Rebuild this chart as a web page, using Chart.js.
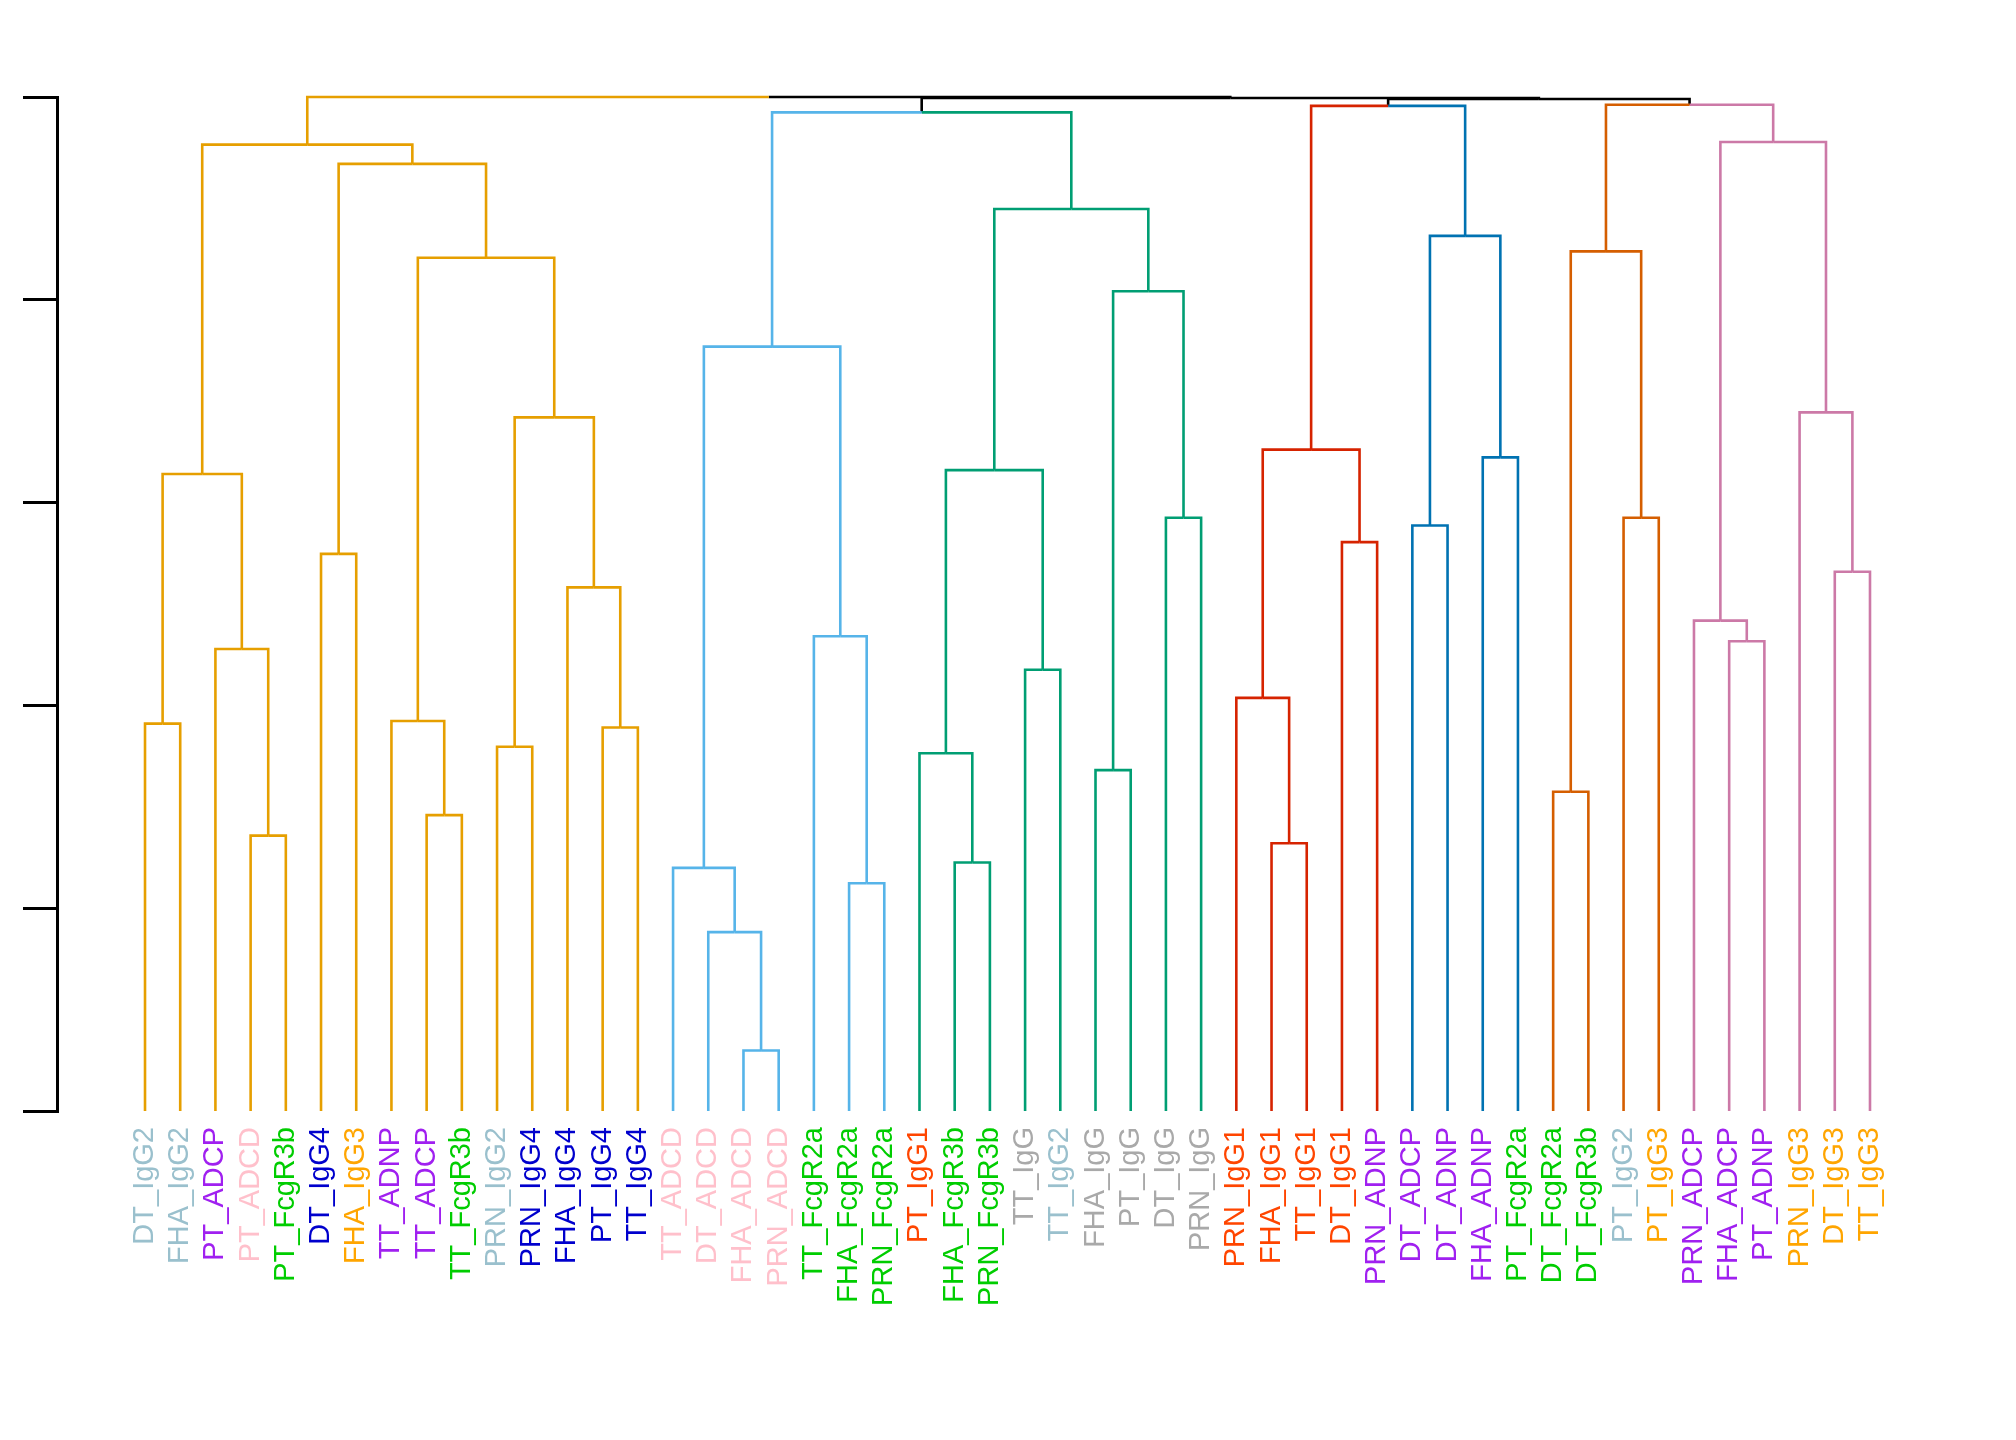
<!DOCTYPE html>
<html>
<head>
<meta charset="utf-8">
<script src="https://cdn.jsdelivr.net/npm/chart.js@4.4.0/dist/chart.umd.min.js"></script>
<style>
  html, body { margin: 0; padding: 0; background: #fff; }
  canvas { display: block; }
</style>
</head>
<body>
<canvas id="dendro" width="2016" height="1440"></canvas>
<script>
// leaf labels in plotting order (left to right)
const leafLabels = [
    'DT_IgG2', 'FHA_IgG2', 'PT_ADCP', 'PT_ADCD', 'PT_FcgR3b', 'DT_IgG4', 'FHA_IgG3', 'TT_ADNP',
    'TT_ADCP', 'TT_FcgR3b', 'PRN_IgG2', 'PRN_IgG4', 'FHA_IgG4', 'PT_IgG4', 'TT_IgG4',
    'TT_ADCD', 'DT_ADCD', 'FHA_ADCD', 'PRN_ADCD', 'TT_FcgR2a', 'FHA_FcgR2a', 'PRN_FcgR2a',
    'PT_IgG1', 'FHA_FcgR3b', 'PRN_FcgR3b', 'TT_IgG', 'TT_IgG2', 'FHA_IgG', 'PT_IgG', 'DT_IgG', 'PRN_IgG',
    'PRN_IgG1', 'FHA_IgG1', 'TT_IgG1', 'DT_IgG1', 'PRN_ADNP',
    'DT_ADCP', 'DT_ADNP', 'FHA_ADNP', 'PT_FcgR2a',
    'DT_FcgR2a', 'DT_FcgR3b', 'PT_IgG2', 'PT_IgG3',
    'PRN_ADCP', 'FHA_ADCP', 'PT_ADNP', 'PRN_IgG3', 'DT_IgG3', 'TT_IgG3'
];

// label colour per leaf (by feature type)
const leafColors = [
    '#9AC0CD', '#9AC0CD', '#A020F0', '#FFC0CB', '#00CD00', '#0000CD', '#FFA500', '#A020F0',
    '#A020F0', '#00CD00', '#9AC0CD', '#0000CD', '#0000CD', '#0000CD', '#0000CD',
    '#FFC0CB', '#FFC0CB', '#FFC0CB', '#FFC0CB', '#00CD00', '#00CD00', '#00CD00',
    '#FF4500', '#00CD00', '#00CD00', '#A9A9A9', '#9AC0CD', '#A9A9A9', '#A9A9A9', '#A9A9A9', '#A9A9A9',
    '#FF4500', '#FF4500', '#FF4500', '#FF4500', '#A020F0',
    '#A020F0', '#A020F0', '#A020F0', '#00CD00',
    '#00CD00', '#00CD00', '#9AC0CD', '#FFA500',
    '#A020F0', '#A020F0', '#A020F0', '#FFA500', '#FFA500', '#FFA500'
];

// clusters (consecutive leaves) and their branch colours
const clusterSizes = [15, 7, 9, 5, 4, 4, 6];
const clusterColors = ['#E69F00', '#56B4E9', '#009E73', '#D62300', '#0072B2', '#D55E00', '#CC79A7'];

// merge table, hclust style: negative = leaf position, positive = earlier merge row
const mergeLeft = [
    -1, -4, -3, 1, -6, -9, -8, -11, -14, -13, 8, 7, 5, 4,
    -18, -17, -16, -21, -20, 17,
    -24, -23, -26, 22, -28, -30, 25, 24, 20,
    -33, -32, -35, 31,
    -37, -39, 34, 33,
    -41, -43, 38,
    -46, -45, -49, -48, 42, 40,
    37, 29, 14
];
const mergeRight = [
    -2, -5, 2, 3, -7, -10, 6, -12, -15, 9, 10, 11, 12, 13,
    -19, 15, 16, -22, 18, 19,
    -25, 21, -27, 23, -29, -31, 26, 27, 28,
    -34, 30, -36, 32,
    -38, -40, 35, 36,
    -42, -44, 39,
    -47, 41, -50, 43, 44, 45,
    46, 47, 48
];
const mergeHeight = [
    1.910, 1.358, 2.278, 3.141, 2.747, 1.459, 1.923, 1.796, 1.891, 2.582, 3.420, 4.207, 4.670, 4.765,
    0.298, 0.882, 1.199, 1.123, 2.341, 3.769,
    1.225, 1.764, 2.176, 3.160, 1.681, 2.925, 4.042, 4.448, 4.924,
    1.320, 2.037, 2.805, 3.261,
    2.887, 3.223, 4.315, 4.956,
    1.574, 2.925, 4.239,
    2.316, 2.418, 2.659, 3.445, 4.778, 4.962,
    4.990, 4.995, 5.000
];

const yTicks = [0, 1, 2, 3, 4, 5];

function leafClusterColor(pos) {
    let end = 0;
    for (let k = 0; k < clusterSizes.length; k++) {
        end += clusterSizes[k];
        if (pos <= end) return clusterColors[k];
    }
    return '#000000';
}

// walk the merge table, placing each node midway between its children
function buildSegments() {
    const nodes = [];
    const child = (id) => id < 0
        ? { x: -id, h: 0, color: leafClusterColor(-id) }
        : nodes[id - 1];
    const segments = [];
    for (let i = 0; i < mergeHeight.length; i++) {
        const a = child(mergeLeft[i]);
        const b = child(mergeRight[i]);
        const h = mergeHeight[i];
        const node = {
            x: (a.x + b.x) / 2,
            h: h,
            color: a.color === b.color ? a.color : '#000000'
        };
        nodes.push(node);
        [a, b].forEach(c => {
            segments.push({
                data: [{ x: c.x, y: c.h }, { x: c.x, y: h }, { x: node.x, y: h }],
                borderColor: c.color
            });
        });
    }
    return segments;
}

const datasets = buildSegments().map(s => ({
    data: s.data,
    borderColor: s.borderColor,
    borderWidth: 2.6,
    showLine: true,
    pointRadius: 0,
    pointHoverRadius: 0,
    fill: false,
    tension: 0,
    clip: false
}));

new Chart(document.getElementById('dendro'), {
    type: 'scatter',
    data: { datasets: datasets },
    options: {
        responsive: false,
        animation: false,
        devicePixelRatio: 1,
        events: [],
        layout: { padding: { left: 23, top: 97, right: 58, bottom: 0 } },
        plugins: { legend: { display: false }, tooltip: { enabled: false } },
        scales: {
            x: {
                type: 'linear',
                position: 'bottom',
                min: -1.5,
                max: 52.5,
                grid: { display: false },
                border: { display: false },
                afterBuildTicks: axis => {
                    axis.ticks = leafLabels.map((_, i) => ({ value: i + 1 }));
                },
                afterFit: axis => { axis.height = 329; },
                ticks: {
                    autoSkip: false,
                    minRotation: 90,
                    maxRotation: 90,
                    padding: 8,
                    font: { family: 'Liberation Sans, Arial, sans-serif', size: 29 },
                    color: ctx => leafColors[ctx.index],
                    callback: value => leafLabels[value - 1]
                }
            },
            y: {
                type: 'linear',
                position: 'left',
                min: 0,
                max: 5,
                afterBuildTicks: axis => {
                    axis.ticks = yTicks.map(v => ({ value: v }));
                },
                afterFit: axis => { axis.width = 34; },
                grid: {
                    display: true,
                    drawOnChartArea: false,
                    drawTicks: true,
                    tickLength: 34,
                    color: '#000000',
                    lineWidth: 3
                },
                border: { display: true, color: '#000000', width: 3 },
                ticks: { display: false }
            }
        }
    }
});
</script>
</body>
</html>
